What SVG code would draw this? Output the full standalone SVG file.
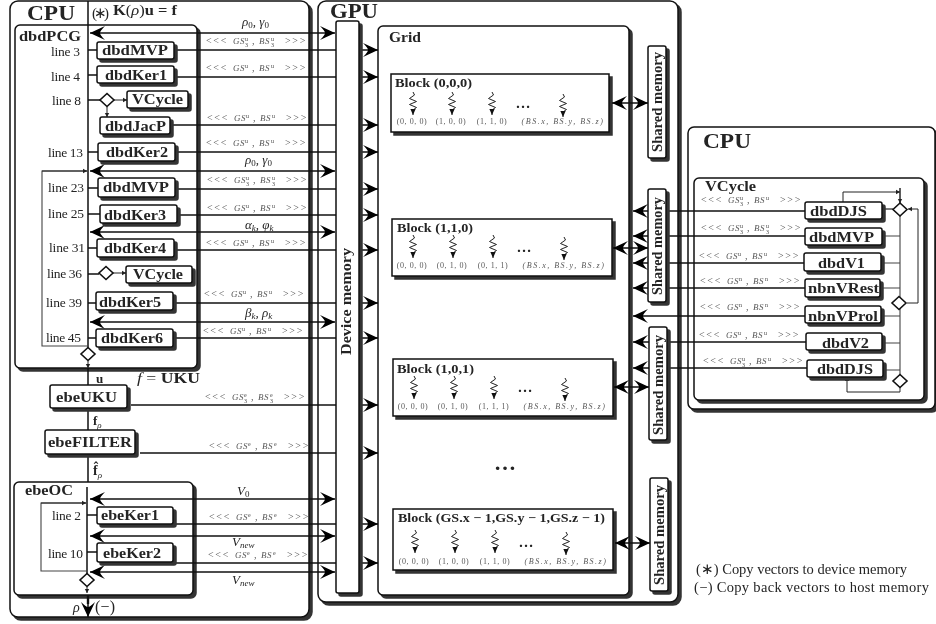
<svg xmlns="http://www.w3.org/2000/svg" width="936" height="624" viewBox="0 0 936 624">
<style>
text{font-family:"Liberation Serif","Times New Roman",serif;fill:#222;opacity:.99}
.sh{filter:drop-shadow(3px 3px 0 #333)}
.box{fill:#fff;stroke:#111;stroke-width:1.5}
.d{fill:#fff;stroke:#111;stroke-width:1.6}
.b{font-weight:bold;font-size:15px}
.t{font-weight:bold;font-size:20px}
.bt{font-weight:bold;font-size:12.500px}
.mem{font-weight:bold;font-size:14px}
.l{font-size:13.500px}
.m{font-size:13px;font-style:italic}
.n{font-style:normal}
.mb{font-style:normal;font-weight:bold}
.ss{font-size:9px}
.lk{font-size:10px;fill:#555;letter-spacing:1.7px}
.lk .i{font-size:9px;font-style:italic;letter-spacing:.6px;fill:#555}
.lk .s{font-size:6px;letter-spacing:0;fill:#444}
.c{font-size:8px;fill:#555;letter-spacing:.6px;text-anchor:middle}
.ci{font-size:8px;fill:#555;letter-spacing:1.5px;text-anchor:middle;font-style:italic}
.dots{font-size:15px;font-weight:bold;text-anchor:middle}
.w{fill:none;stroke:#111;stroke-width:1.5}
.a{marker-end:url(#st)}
.aa{marker-start:url(#st);marker-end:url(#st)}
.gl{fill:none;stroke:#444;stroke-width:1.1}
.sa{fill:none;stroke:#222;stroke-width:1;marker-end:url(#sm)}
.th{fill:none;stroke:#222;stroke-width:1;marker-end:url(#tp)}
</style>
<defs>
<marker id="st" markerUnits="userSpaceOnUse" markerWidth="18" markerHeight="16" viewBox="-17 -8 18 16" refX="0" refY="0" orient="auto-start-reverse"><path d="M0 0L-15 -7Q-10 -2 -10 0Q-10 2 -15 7Z" fill="#000"/></marker>
<marker id="sm" markerUnits="userSpaceOnUse" markerWidth="6" markerHeight="6" viewBox="-5 -3 6 6" refX="0" refY="0" orient="auto"><path d="M0 0L-4 -2.200L-4 2.200Z" fill="#222"/></marker>
<marker id="tp" markerUnits="userSpaceOnUse" markerWidth="8" markerHeight="8" viewBox="-7 -4 8 8" refX="0" refY="0" orient="auto"><path d="M0 0L-6 -2.600L-6 2.600Z" fill="#111"/></marker>
<path id="zz" d="M0 0L1.500 3L-3.500 6.500L3.500 9.500L-3.500 12.500L3.500 15.500L0 18L0 23" class="th"/>
</defs>

<g id="cpu-left"><rect class="box sh" x="10" y="1" width="299" height="616" rx="8"/><text class="t" x="27" y="20" textLength="48" lengthAdjust="spacingAndGlyphs">CPU</text></g>
<g id="gpu"><rect class="box sh" x="318" y="1" width="360" height="601" rx="8"/><text class="t" x="330" y="18" textLength="48" lengthAdjust="spacingAndGlyphs">GPU</text></g>
<g id="dbdPCG"><rect class="box sh" x="15" y="25" width="182" height="343" rx="5"/><text class="b" x="19" y="41" textLength="62" lengthAdjust="spacingAndGlyphs">dbdPCG</text></g>
<g id="ebeOC"><rect class="box sh" x="14" y="482" width="179" height="113" rx="5"/><text class="b" x="25" y="495" textLength="48" lengthAdjust="spacingAndGlyphs">ebeOC</text></g>
<g id="grid"><rect class="box sh" x="378" y="26" width="251" height="569" rx="5"/><text class="b" x="389" y="42" textLength="32" lengthAdjust="spacingAndGlyphs">Grid</text></g>
<g id="cpu-right"><rect class="box sh" x="688" y="127" width="247" height="282" rx="6"/><text class="t" x="703" y="148" textLength="48" lengthAdjust="spacingAndGlyphs">CPU</text></g>
<g id="vcycle-panel"><rect class="box sh" x="694" y="178" width="230" height="222" rx="5"/><text class="b" x="705" y="191" textLength="51" lengthAdjust="spacingAndGlyphs">VCycle</text></g>

<g id="blocks-bg">
<rect class="box sh" x="391" y="74" width="218" height="58"/>
<rect class="box sh" x="392" y="219" width="220" height="57"/>
<rect class="box sh" x="393" y="359" width="220" height="57"/>
<rect class="box sh" x="393" y="509" width="220" height="61"/>
</g>

<g id="connectors">
<path class="w" d="M88 1V348M88 368V385M88 408V430M88 454V482M87 487V574"/>
<path class="w" d="M88 50H97M88 75H97M88 100H100M88 152H98M88 188H98M88 214H100M88 248H97M88 274H99M88 303H96M88 338H96M87 515H97M87 552H97"/>
<path class="gl" d="M88 171H42V346H88"/><path class="gl" d="M87 503H41V571H87"/>
<path class="sa" d="M42 171H87"/><path class="sa" d="M41 503H86"/>
<path class="sa" d="M114 100H127"/><path class="sa" d="M107 107V117"/>
<path class="sa" d="M113 273H126"/>
<path class="sa" d="M88 361V368"/><path class="sa" d="M87 587V593"/>
<path class="w aa" d="M90 33H335"/><path class="w aa" d="M90 171H335"/><path class="w aa" d="M90 232H335"/><path class="w aa" d="M90 322H335"/>
<path class="w aa" d="M90 499H335"/><path class="w aa" d="M90 536H335"/><path class="w aa" d="M90 572H335"/>
<path class="w a" d="M176 50H378"/><path class="w a" d="M176 77H378"/><path class="w a" d="M172 125H378"/><path class="w a" d="M177 152H378"/><path class="w a" d="M177 189H378"/><path class="w a" d="M179 215H378"/><path class="w a" d="M176 250H378"/><path class="w a" d="M175 303H378"/><path class="w a" d="M175 338H378"/><path class="w a" d="M131 405H378"/><path class="w a" d="M140 453H378"/><path class="w a" d="M175 524H378"/><path class="w a" d="M175 563H378"/>
<path class="w" d="M88 595V604" style="stroke-width:2.400"/><path class="w a" d="M88 600V617"/>
<path class="w aa" d="M612 103H648"/><path class="w aa" d="M613 248H648"/><path class="w aa" d="M614 387H649"/><path class="w aa" d="M615 543H650"/>
<path class="w a" d="M805 211H633"/><path class="w a" d="M805 236H633"/><path class="w a" d="M804 263H633"/><path class="w a" d="M805 288H633"/><path class="w a" d="M805 316H633"/><path class="w a" d="M806 342H633"/><path class="w a" d="M807 368H633"/>
<path class="gl" d="M900 188V392M882 236H900M881 263H900M880 288H900M881 316H900M882 343H900M883 370H900"/>
<path class="w" style="stroke-width:1.100" d="M882 209H893"/>
<path class="sa" d="M843 202V192H900"/><path class="sa" d="M900 188V203"/>
<path class="sa" d="M907 303H918V209H908"/>
<path class="sa" d="M900 392H847V377"/>
</g>

<g id="device-memory"><rect class="box sh" x="336" y="21" width="23" height="572" rx="2"/><text class="mem" transform="translate(351,355) rotate(-90)" textLength="107" lengthAdjust="spacingAndGlyphs">Device memory</text></g>
<g id="shared-0"><rect class="box sh" x="648" y="46" width="18" height="112" rx="2"/><text class="mem" transform="translate(662,152) rotate(-90)" textLength="100" lengthAdjust="spacingAndGlyphs">Shared memory</text></g>
<g id="shared-1"><rect class="box sh" x="648" y="189" width="18" height="113" rx="2"/><text class="mem" transform="translate(662,295) rotate(-90)" textLength="98" lengthAdjust="spacingAndGlyphs">Shared memory</text></g>
<g id="shared-2"><rect class="box sh" x="649" y="327" width="18" height="113" rx="2"/><text class="mem" transform="translate(663,435) rotate(-90)" textLength="100" lengthAdjust="spacingAndGlyphs">Shared memory</text></g>
<g id="shared-3"><rect class="box sh" x="650" y="478" width="18" height="113" rx="2"/><text class="mem" transform="translate(664,585) rotate(-90)" textLength="100" lengthAdjust="spacingAndGlyphs">Shared memory</text></g>

<g id="n-dbdMVP-1"><rect class="box sh" x="97" y="42" width="77" height="17" rx="2"/><text class="b" x="102" y="55" textLength="66" lengthAdjust="spacingAndGlyphs">dbdMVP</text></g>
<g id="n-dbdKer1"><rect class="box sh" x="97" y="66" width="77" height="17" rx="2"/><text class="b" x="105" y="80" textLength="62" lengthAdjust="spacingAndGlyphs">dbdKer1</text></g>
<g id="n-VCycle-1"><rect class="box sh" x="127" y="91" width="61" height="17" rx="2"/><text class="b" x="132" y="104" textLength="51" lengthAdjust="spacingAndGlyphs">VCycle</text></g>
<g id="n-dbdJacP"><rect class="box sh" x="100" y="117" width="70" height="17" rx="2"/><text class="b" x="105" y="131" textLength="61" lengthAdjust="spacingAndGlyphs">dbdJacP</text></g>
<g id="n-dbdKer2"><rect class="box sh" x="98" y="143" width="77" height="18" rx="2"/><text class="b" x="106" y="157" textLength="62" lengthAdjust="spacingAndGlyphs">dbdKer2</text></g>
<g id="n-dbdMVP-2"><rect class="box sh" x="98" y="178" width="77" height="19" rx="2"/><text class="b" x="103" y="192" textLength="66" lengthAdjust="spacingAndGlyphs">dbdMVP</text></g>
<g id="n-dbdKer3"><rect class="box sh" x="100" y="205" width="77" height="18" rx="2"/><text class="b" x="104" y="220" textLength="62" lengthAdjust="spacingAndGlyphs">dbdKer3</text></g>
<g id="n-dbdKer4"><rect class="box sh" x="97" y="239" width="77" height="18" rx="2"/><text class="b" x="104" y="253" textLength="62" lengthAdjust="spacingAndGlyphs">dbdKer4</text></g>
<g id="n-VCycle-2"><rect class="box sh" x="126" y="266" width="66" height="17" rx="2"/><text class="b" x="133" y="279" textLength="50" lengthAdjust="spacingAndGlyphs">VCycle</text></g>
<g id="n-dbdKer5"><rect class="box sh" x="96" y="292" width="77" height="18" rx="2"/><text class="b" x="99" y="307" textLength="62" lengthAdjust="spacingAndGlyphs">dbdKer5</text></g>
<g id="n-dbdKer6"><rect class="box sh" x="96" y="329" width="77" height="18" rx="2"/><text class="b" x="101" y="343" textLength="62" lengthAdjust="spacingAndGlyphs">dbdKer6</text></g>
<g id="n-ebeUKU"><rect class="box sh" x="50" y="385" width="77" height="23" rx="2"/><text class="b" x="56" y="402" textLength="61" lengthAdjust="spacingAndGlyphs">ebeUKU</text></g>
<g id="n-ebeFILTER"><rect class="box sh" x="45" y="430" width="90" height="24" rx="2"/><text class="b" x="48" y="447" textLength="84" lengthAdjust="spacingAndGlyphs">ebeFILTER</text></g>
<g id="n-ebeKer1"><rect class="box sh" x="97" y="507" width="76" height="17" rx="2"/><text class="b" x="101" y="520" textLength="58" lengthAdjust="spacingAndGlyphs">ebeKer1</text></g>
<g id="n-ebeKer2"><rect class="box sh" x="97" y="543" width="76" height="19" rx="2"/><text class="b" x="103" y="558" textLength="58" lengthAdjust="spacingAndGlyphs">ebeKer2</text></g>

<g id="n-dbdDJS-1"><rect class="box sh" x="805" y="202" width="77" height="17" rx="2"/><text class="b" x="810" y="216" textLength="57" lengthAdjust="spacingAndGlyphs">dbdDJS</text></g>
<g id="n-dbdMVP-3"><rect class="box sh" x="805" y="228" width="77" height="17" rx="2"/><text class="b" x="809" y="242" textLength="65" lengthAdjust="spacingAndGlyphs">dbdMVP</text></g>
<g id="n-dbdV1"><rect class="box sh" x="804" y="253" width="77" height="18" rx="2"/><text class="b" x="818" y="268" textLength="47" lengthAdjust="spacingAndGlyphs">dbdV1</text></g>
<g id="n-nbnVRest"><rect class="box sh" x="805" y="279" width="75" height="18" rx="2"/><text class="b" x="808" y="293" textLength="71" lengthAdjust="spacingAndGlyphs">nbnVRest</text></g>
<g id="n-nbnVProl"><rect class="box sh" x="805" y="306" width="76" height="17" rx="2"/><text class="b" x="808" y="321" textLength="70" lengthAdjust="spacingAndGlyphs">nbnVProl</text></g>
<g id="n-dbdV2"><rect class="box sh" x="806" y="333" width="76" height="17" rx="2"/><text class="b" x="822" y="348" textLength="47" lengthAdjust="spacingAndGlyphs">dbdV2</text></g>
<g id="n-dbdDJS-2"><rect class="box sh" x="807" y="360" width="76" height="17" rx="2"/><text class="b" x="817" y="374" textLength="56" lengthAdjust="spacingAndGlyphs">dbdDJS</text></g>

<g id="diamonds">
<polygon class="d" points="107,93.500 114,100 107,106.500 100,100"/>
<polygon class="d" points="106,266.500 113,273 106,279.500 99,273"/>
<polygon class="d" points="88,347.500 95,354 88,360.500 81,354"/>
<polygon class="d" points="87,573.500 94,580 87,586.500 80,580"/>
<polygon class="d" points="900,203 907,209.500 900,216 893,209.500"/>
<polygon class="d" points="899,296.500 906,303 899,309.500 892,303"/>
<polygon class="d" points="900,374.500 907,381 900,387.500 893,381"/>
</g>

<g id="line-labels">
<text class="l" x="51" y="56" textLength="29">line 3</text>
<text class="l" x="51" y="81" textLength="29">line 4</text>
<text class="l" x="52" y="105" textLength="29">line 8</text>
<text class="l" x="48" y="157" textLength="35">line 13</text>
<text class="l" x="48" y="192" textLength="36">line 23</text>
<text class="l" x="48" y="218" textLength="36">line 25</text>
<text class="l" x="49" y="252" textLength="36">line 31</text>
<text class="l" x="47" y="278" textLength="35">line 36</text>
<text class="l" x="46" y="307" textLength="36">line 39</text>
<text class="l" x="46" y="342" textLength="35">line 45</text>
<text class="l" x="52" y="520" textLength="29">line 2</text>
<text class="l" x="48" y="558" textLength="35">line 10</text>
</g>

<g id="math-labels">
<text class="l" style="font-size:15px" x="92" y="18" textLength="17">(∗)</text>
<text class="mb" style="font-size:14px" x="113" y="15" textLength="64" lengthAdjust="spacingAndGlyphs">K<tspan style="font-weight:normal">(</tspan><tspan style="font-weight:normal;font-style:italic">ρ</tspan><tspan style="font-weight:normal">)</tspan>u = f</text>
<text class="m" x="242" y="26">ρ<tspan class="ss n" dy="2">0</tspan><tspan dy="-2">, γ</tspan><tspan class="ss n" dy="2">0</tspan></text>
<text class="m" x="245" y="164">ρ<tspan class="ss n" dy="2">0</tspan><tspan dy="-2">, γ</tspan><tspan class="ss n" dy="2">0</tspan></text>
<text class="m" x="245" y="229">α<tspan class="ss" dy="2">k</tspan><tspan dy="-2">, φ</tspan><tspan class="ss" dy="2">k</tspan></text>
<text class="m" x="245" y="317">β<tspan class="ss" dy="2">k</tspan><tspan dy="-2">, ρ</tspan><tspan class="ss" dy="2">k</tspan></text>
<text class="mb" style="font-size:13px" x="96" y="383">u</text>
<text class="m" style="font-size:15px" x="137" y="383" textLength="63" lengthAdjust="spacingAndGlyphs">f <tspan class="n">=</tspan> <tspan class="mb">UKU</tspan></text>
<text class="mb" style="font-size:13px" x="93" y="425">f<tspan class="ss" style="font-style:italic;font-weight:normal" dy="3">ρ</tspan></text>
<text class="mb" style="font-size:14px" x="93" y="475">f̂<tspan class="ss" style="font-style:italic;font-weight:normal" dy="3">ρ</tspan></text>
<text class="m" x="237" y="495">V<tspan class="ss n" dy="2">0</tspan></text>
<text class="m" x="232" y="546">V<tspan class="ss" dy="1.500">new</tspan></text>
<text class="m" x="232" y="584">V<tspan class="ss" dy="1.500">new</tspan></text>
<text class="m" style="font-size:14px" x="73" y="612">ρ</text>
<text class="l" x="95" y="612" textLength="20" style="font-size:16px">(−)</text>
</g>

<g id="link-labels">
<text class="lk" transform="translate(206,44)">&lt;&lt;&lt;<tspan x="27" class="i">GS</tspan><tspan x="39" dy="-3" class="s">u</tspan><tspan x="39" dy="5.500" class="s">3</tspan><tspan x="46" dy="-2.500">,</tspan><tspan x="53" class="i">BS</tspan><tspan x="65" dy="-3" class="s">u</tspan><tspan x="65" dy="5.500" class="s">3</tspan><tspan x="79" dy="-2.500">&gt;&gt;&gt;</tspan></text>
<text class="lk" transform="translate(206,71)">&lt;&lt;&lt;<tspan x="27" class="i">GS</tspan><tspan x="39" dy="-3" class="s">u</tspan><tspan x="46" dy="3">,</tspan><tspan x="53" class="i">BS</tspan><tspan x="65" dy="-3" class="s">u</tspan><tspan x="79" dy="3">&gt;&gt;&gt;</tspan></text>
<text class="lk" transform="translate(207,121)">&lt;&lt;&lt;<tspan x="27" class="i">GS</tspan><tspan x="39" dy="-3" class="s">u</tspan><tspan x="46" dy="3">,</tspan><tspan x="53" class="i">BS</tspan><tspan x="65" dy="-3" class="s">u</tspan><tspan x="79" dy="3">&gt;&gt;&gt;</tspan></text>
<text class="lk" transform="translate(206,146)">&lt;&lt;&lt;<tspan x="27" class="i">GS</tspan><tspan x="39" dy="-3" class="s">u</tspan><tspan x="46" dy="3">,</tspan><tspan x="53" class="i">BS</tspan><tspan x="65" dy="-3" class="s">u</tspan><tspan x="79" dy="3">&gt;&gt;&gt;</tspan></text>
<text class="lk" transform="translate(207,183)">&lt;&lt;&lt;<tspan x="27" class="i">GS</tspan><tspan x="39" dy="-3" class="s">u</tspan><tspan x="39" dy="5.500" class="s">3</tspan><tspan x="46" dy="-2.500">,</tspan><tspan x="53" class="i">BS</tspan><tspan x="65" dy="-3" class="s">u</tspan><tspan x="65" dy="5.500" class="s">3</tspan><tspan x="79" dy="-2.500">&gt;&gt;&gt;</tspan></text>
<text class="lk" transform="translate(207,211)">&lt;&lt;&lt;<tspan x="27" class="i">GS</tspan><tspan x="39" dy="-3" class="s">u</tspan><tspan x="46" dy="3">,</tspan><tspan x="53" class="i">BS</tspan><tspan x="65" dy="-3" class="s">u</tspan><tspan x="79" dy="3">&gt;&gt;&gt;</tspan></text>
<text class="lk" transform="translate(206,246)">&lt;&lt;&lt;<tspan x="27" class="i">GS</tspan><tspan x="39" dy="-3" class="s">u</tspan><tspan x="46" dy="3">,</tspan><tspan x="53" class="i">BS</tspan><tspan x="65" dy="-3" class="s">u</tspan><tspan x="79" dy="3">&gt;&gt;&gt;</tspan></text>
<text class="lk" transform="translate(204,297)">&lt;&lt;&lt;<tspan x="27" class="i">GS</tspan><tspan x="39" dy="-3" class="s">u</tspan><tspan x="46" dy="3">,</tspan><tspan x="53" class="i">BS</tspan><tspan x="65" dy="-3" class="s">u</tspan><tspan x="79" dy="3">&gt;&gt;&gt;</tspan></text>
<text class="lk" transform="translate(203,334)">&lt;&lt;&lt;<tspan x="27" class="i">GS</tspan><tspan x="39" dy="-3" class="s">u</tspan><tspan x="46" dy="3">,</tspan><tspan x="53" class="i">BS</tspan><tspan x="65" dy="-3" class="s">u</tspan><tspan x="79" dy="3">&gt;&gt;&gt;</tspan></text>
<text class="lk" transform="translate(205,400)">&lt;&lt;&lt;<tspan x="27" class="i">GS</tspan><tspan x="39" dy="-3" class="s">e</tspan><tspan x="39" dy="5.500" class="s">3</tspan><tspan x="46" dy="-2.500">,</tspan><tspan x="53" class="i">BS</tspan><tspan x="65" dy="-3" class="s">e</tspan><tspan x="65" dy="5.500" class="s">3</tspan><tspan x="79" dy="-2.500">&gt;&gt;&gt;</tspan></text>
<text class="lk" transform="translate(209,449)">&lt;&lt;&lt;<tspan x="27" class="i">GS</tspan><tspan x="39" dy="-3" class="s">e</tspan><tspan x="46" dy="3">,</tspan><tspan x="53" class="i">BS</tspan><tspan x="65" dy="-3" class="s">e</tspan><tspan x="79" dy="3">&gt;&gt;&gt;</tspan></text>
<text class="lk" transform="translate(209,520)">&lt;&lt;&lt;<tspan x="27" class="i">GS</tspan><tspan x="39" dy="-3" class="s">e</tspan><tspan x="46" dy="3">,</tspan><tspan x="53" class="i">BS</tspan><tspan x="65" dy="-3" class="s">e</tspan><tspan x="79" dy="3">&gt;&gt;&gt;</tspan></text>
<text class="lk" transform="translate(208,558)">&lt;&lt;&lt;<tspan x="27" class="i">GS</tspan><tspan x="39" dy="-3" class="s">e</tspan><tspan x="46" dy="3">,</tspan><tspan x="53" class="i">BS</tspan><tspan x="65" dy="-3" class="s">e</tspan><tspan x="79" dy="3">&gt;&gt;&gt;</tspan></text>
<text class="lk" transform="translate(701,203)">&lt;&lt;&lt;<tspan x="27" class="i">GS</tspan><tspan x="39" dy="-3" class="s">u</tspan><tspan x="39" dy="5.500" class="s">3</tspan><tspan x="46" dy="-2.500">,</tspan><tspan x="53" class="i">BS</tspan><tspan x="65" dy="-3" class="s">u</tspan><tspan x="79" dy="3">&gt;&gt;&gt;</tspan></text>
<text class="lk" transform="translate(701,231)">&lt;&lt;&lt;<tspan x="27" class="i">GS</tspan><tspan x="39" dy="-3" class="s">u</tspan><tspan x="39" dy="5.500" class="s">3</tspan><tspan x="46" dy="-2.500">,</tspan><tspan x="53" class="i">BS</tspan><tspan x="65" dy="-3" class="s">u</tspan><tspan x="65" dy="5.500" class="s">3</tspan><tspan x="79" dy="-2.500">&gt;&gt;&gt;</tspan></text>
<text class="lk" transform="translate(699,259)">&lt;&lt;&lt;<tspan x="27" class="i">GS</tspan><tspan x="39" dy="-3" class="s">u</tspan><tspan x="46" dy="3">,</tspan><tspan x="53" class="i">BS</tspan><tspan x="65" dy="-3" class="s">u</tspan><tspan x="79" dy="3">&gt;&gt;&gt;</tspan></text>
<text class="lk" transform="translate(700,284)">&lt;&lt;&lt;<tspan x="27" class="i">GS</tspan><tspan x="39" dy="-3" class="s">n</tspan><tspan x="46" dy="3">,</tspan><tspan x="53" class="i">BS</tspan><tspan x="65" dy="-3" class="s">n</tspan><tspan x="79" dy="3">&gt;&gt;&gt;</tspan></text>
<text class="lk" transform="translate(700,310)">&lt;&lt;&lt;<tspan x="27" class="i">GS</tspan><tspan x="39" dy="-3" class="s">n</tspan><tspan x="46" dy="3">,</tspan><tspan x="53" class="i">BS</tspan><tspan x="65" dy="-3" class="s">n</tspan><tspan x="79" dy="3">&gt;&gt;&gt;</tspan></text>
<text class="lk" transform="translate(699,338)">&lt;&lt;&lt;<tspan x="27" class="i">GS</tspan><tspan x="39" dy="-3" class="s">u</tspan><tspan x="46" dy="3">,</tspan><tspan x="53" class="i">BS</tspan><tspan x="65" dy="-3" class="s">u</tspan><tspan x="79" dy="3">&gt;&gt;&gt;</tspan></text>
<text class="lk" transform="translate(703,364)">&lt;&lt;&lt;<tspan x="27" class="i">GS</tspan><tspan x="39" dy="-3" class="s">u</tspan><tspan x="39" dy="5.500" class="s">3</tspan><tspan x="46" dy="-2.500">,</tspan><tspan x="53" class="i">BS</tspan><tspan x="65" dy="-3" class="s">u</tspan><tspan x="79" dy="3">&gt;&gt;&gt;</tspan></text>
</g>

<g id="block-0-0-0">
<text class="bt" x="395" y="87" textLength="77" lengthAdjust="spacingAndGlyphs">Block (0,0,0)</text>
<use href="#zz" x="413" y="92"/><use href="#zz" x="452" y="92"/><use href="#zz" x="492" y="92"/><use href="#zz" x="563" y="94"/>
<text class="c" x="412" y="124">(0, 0, 0)</text><text class="c" x="451" y="124">(1, 0, 0)</text><text class="c" x="492" y="124">(1, 1, 0)</text><text class="ci" x="563" y="124">(BS.x, BS.y, BS.z)</text>
<text class="dots" x="523" y="108">…</text>
</g>
<g id="block-1-1-0">
<text class="bt" x="397" y="232" textLength="76" lengthAdjust="spacingAndGlyphs">Block (1,1,0)</text>
<use href="#zz" x="413" y="235"/><use href="#zz" x="453" y="235"/><use href="#zz" x="493" y="235"/><use href="#zz" x="564" y="237"/>
<text class="c" x="412" y="268">(0, 0, 0)</text><text class="c" x="452" y="268">(0, 1, 0)</text><text class="c" x="493" y="268">(0, 1, 1)</text><text class="ci" x="564" y="268">(BS.x, BS.y, BS.z)</text>
<text class="dots" x="524" y="252">…</text>
</g>
<g id="block-1-0-1">
<text class="bt" x="397" y="373" textLength="77" lengthAdjust="spacingAndGlyphs">Block (1,0,1)</text>
<use href="#zz" x="414" y="376"/><use href="#zz" x="454" y="376"/><use href="#zz" x="494" y="376"/><use href="#zz" x="565" y="378"/>
<text class="c" x="413" y="409">(0, 0, 0)</text><text class="c" x="453" y="409">(0, 1, 0)</text><text class="c" x="494" y="409">(1, 1, 1)</text><text class="ci" x="565" y="409">(BS.x, BS.y, BS.z)</text>
<text class="dots" x="525" y="392">…</text>
</g>
<text id="more-blocks" class="dots" x="505" y="470" style="font-size:22px">…</text>
<g id="block-last">
<text class="bt" x="398" y="522" textLength="207" lengthAdjust="spacingAndGlyphs">Block (GS.x − 1,GS.y − 1,GS.z − 1)</text>
<use href="#zz" x="415" y="530"/><use href="#zz" x="455" y="530"/><use href="#zz" x="495" y="530"/><use href="#zz" x="566" y="532"/>
<text class="c" x="414" y="564">(0, 0, 0)</text><text class="c" x="454" y="564">(1, 0, 0)</text><text class="c" x="495" y="564">(1, 1, 0)</text><text class="ci" x="566" y="564">(BS.x, BS.y, BS.z)</text>
<text class="dots" x="526" y="547">…</text>
</g>

<g id="legend">
<text class="l" style="font-size:14.500px" x="696" y="574" textLength="211">(∗) Copy vectors to device memory</text>
<text class="l" style="font-size:14.500px" x="694" y="592" textLength="235">(−) Copy back vectors to host memory</text>
</g>
</svg>
